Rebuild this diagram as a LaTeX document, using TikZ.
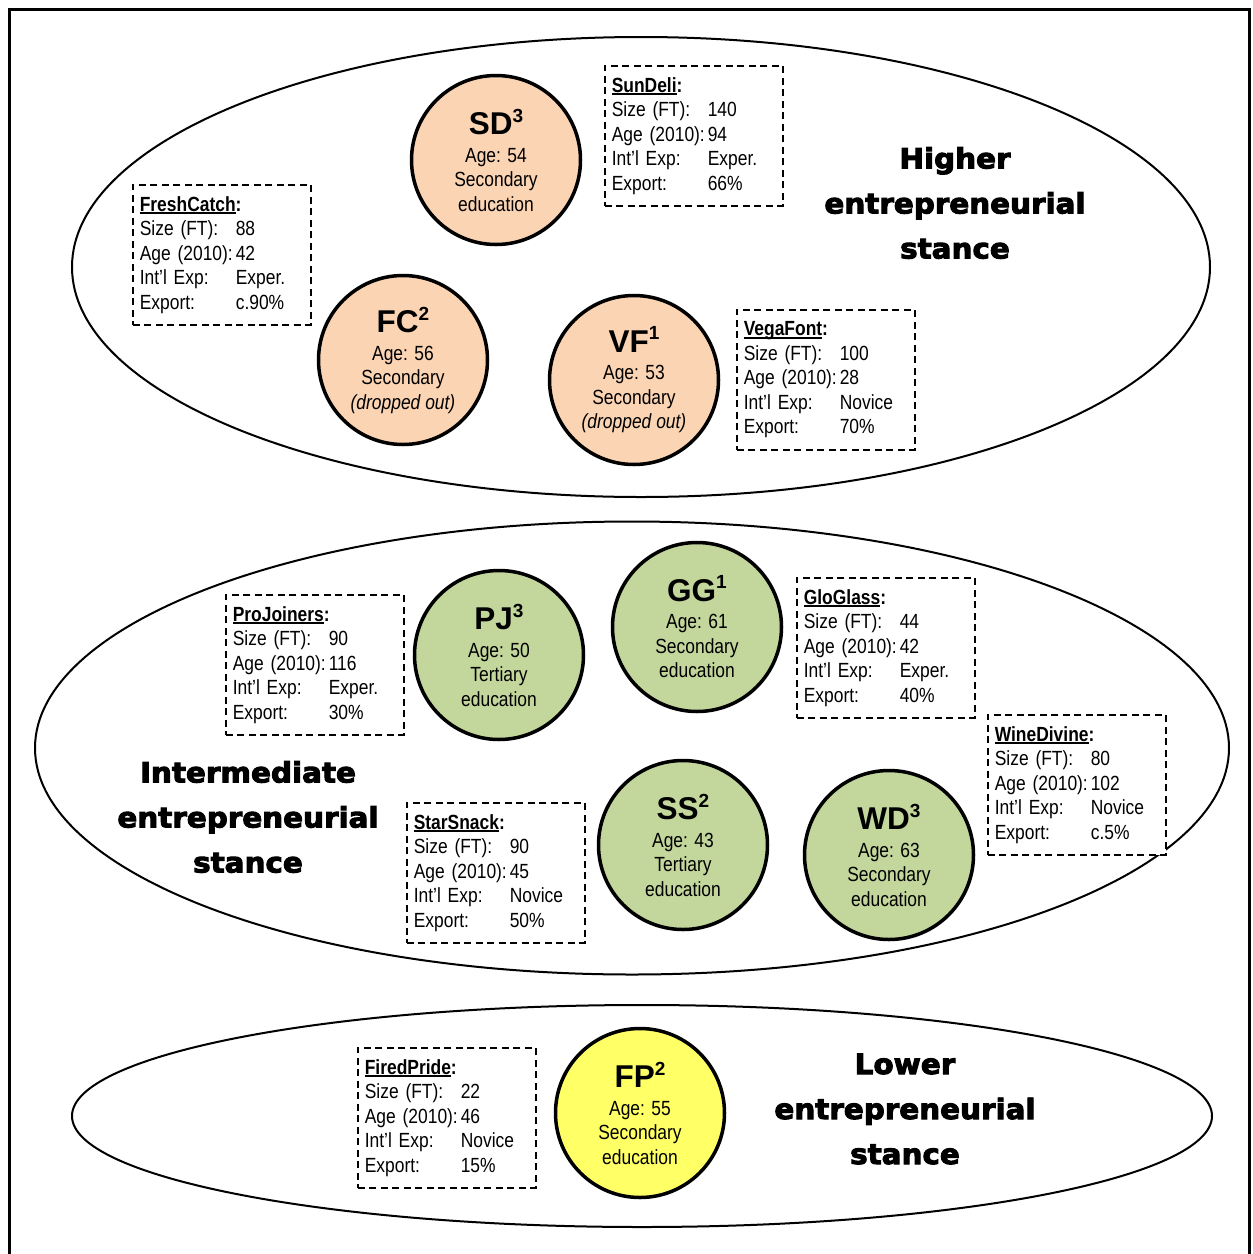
\documentclass[tikz,border=0pt]{standalone}
\usepackage{fontspec}
\usetikzlibrary{shapes.geometric}
\newfontfamily\bodyfont{Liberation Sans}[FakeStretch=0.85]
\newfontfamily\titlefont{Liberation Sans}
\newfontfamily\headfont{DejaVu Sans}[FakeStretch=1.05,FakeBold=3.5]
\definecolor{peach}{HTML}{FBD4B4}
\definecolor{sage}{HTML}{C3D69B}
\definecolor{lemon}{HTML}{FFFF66}
% bold firm name with a heavy underline under the name only
\newcommand\firmname[1]{\setbox0=\hbox{\bfseries #1}\rlap{\rule[-2.8pt]{\wd0}{1.8pt}}\box0}
\newcommand\field[1]{\makebox[96pt][l]{#1}}
\newcommand\abbr[2]{{\titlefont\bfseries\fontsize{31.5}{31.5}\selectfont #1\raisebox{12.5pt}{\fontsize{19}{19}\selectfont #2}}}
% dashed data card: name, position, firm, size, age, experience, export
\newcommand\datacard[7]{%
  \node[card] (#1) at (#2) {\textbf{\firmname{#3}:}\\
    \field{Size (FT):}#4\\
    \field{Age (2010):}#5\\
    \field{Int’l Exp:}#6\\
    \field{Export:}#7};}
\begin{document}
\begin{tikzpicture}[x=1pt,y=-1pt,
  stance/.style={draw, ellipse, line width=2pt, inner sep=0pt},
  firm/.style={draw, circle, line width=3.5pt, minimum size=169pt, inner sep=0pt,
    align=center, font=\bodyfont\fontsize{20.5}{24.5}\selectfont},
  card/.style={draw, fill=white, line width=1.6pt, dash pattern=on 7pt off 4.5pt,
    anchor=north west, minimum width=178pt, minimum height=140pt,
    text width=164pt, inner xsep=7pt, align=left,
    font=\bodyfont\fontsize{20.5}{24.5}\selectfont},
  heading/.style={align=center, font=\headfont\bfseries\fontsize{28}{45}\selectfont}]
\useasboundingbox (0,0) rectangle (1253,1254);
\clip (0,0) rectangle (1253,1254);
\fill[white] (0,0) rectangle (1253,1254);
% outer frame
\draw[line width=3pt] (9,1300) -- (9,9) -- (1249,9) -- (1249,1300);

% the three stance groups
\node[stance, minimum width=1138pt, minimum height=460pt] (higher) at (641,267) {};
\node[stance, minimum width=1194pt, minimum height=453pt] (intermediate) at (632,748) {};
\node[stance, minimum width=1140pt, minimum height=222pt] (lower) at (642,1116) {};

\node[heading] (higherlab) at (955,203) {Higher\\entrepreneurial\\stance};
\node[heading] (intermlab) at (248,817) {Intermediate\\entrepreneurial\\stance};
\node[heading] (lowerlab) at (905,1109) {Lower\\entrepreneurial\\stance};

% higher stance firms
\node[firm, fill=peach] (sd) at (496,160) {\abbr{SD}{3}\\[3pt]Age: 54\\Secondary\\education};
\node[firm, fill=peach] (fc) at (403,360) {\abbr{FC}{2}\\[3pt]Age: 56\\Secondary\\\textit{(dropped out)}};
\node[firm, fill=peach] (vf) at (634,380) {\abbr{VF}{1}\\[3pt]Age: 53\\Secondary\\\textit{(dropped out)}};
\datacard{sundeli}{604,65}{SunDeli}{140}{94}{Exper.}{66\%}
\datacard{freshcatch}{132,184}{FreshCatch}{88}{42}{Exper.}{c.90\%}
\datacard{vegafont}{736,309}{VegaFont}{100}{28}{Novice}{70\%}

% intermediate stance firms
\node[firm, fill=sage] (pj) at (499,655) {\abbr{PJ}{3}\\[3pt]Age: 50\\Tertiary\\education};
\node[firm, fill=sage] (gg) at (697,627) {\abbr{GG}{1}\\[3pt]Age: 61\\Secondary\\education};
\node[firm, fill=sage] (ss) at (683,845) {\abbr{SS}{2}\\[3pt]Age: 43\\Tertiary\\education};
\node[firm, fill=sage] (wd) at (889,855) {\abbr{WD}{3}\\[3pt]Age: 63\\Secondary\\education};
\datacard{projoiners}{225,594}{ProJoiners}{90}{116}{Exper.}{30\%}
\datacard{gloglass}{796,577}{GloGlass}{44}{42}{Exper.}{40\%}
\datacard{winedivine}{987,714}{WineDivine}{80}{102}{Novice}{c.5\%}
\datacard{starsnack}{406,802}{StarSnack}{90}{45}{Novice}{50\%}

% lower stance firm
\node[firm, fill=lemon] (fp) at (640,1113) {\abbr{FP}{2}\\[3pt]Age: 55\\Secondary\\education};
\datacard{firedpride}{357,1047}{FiredPride}{22}{46}{Novice}{15\%}
\end{tikzpicture}
\end{document}
